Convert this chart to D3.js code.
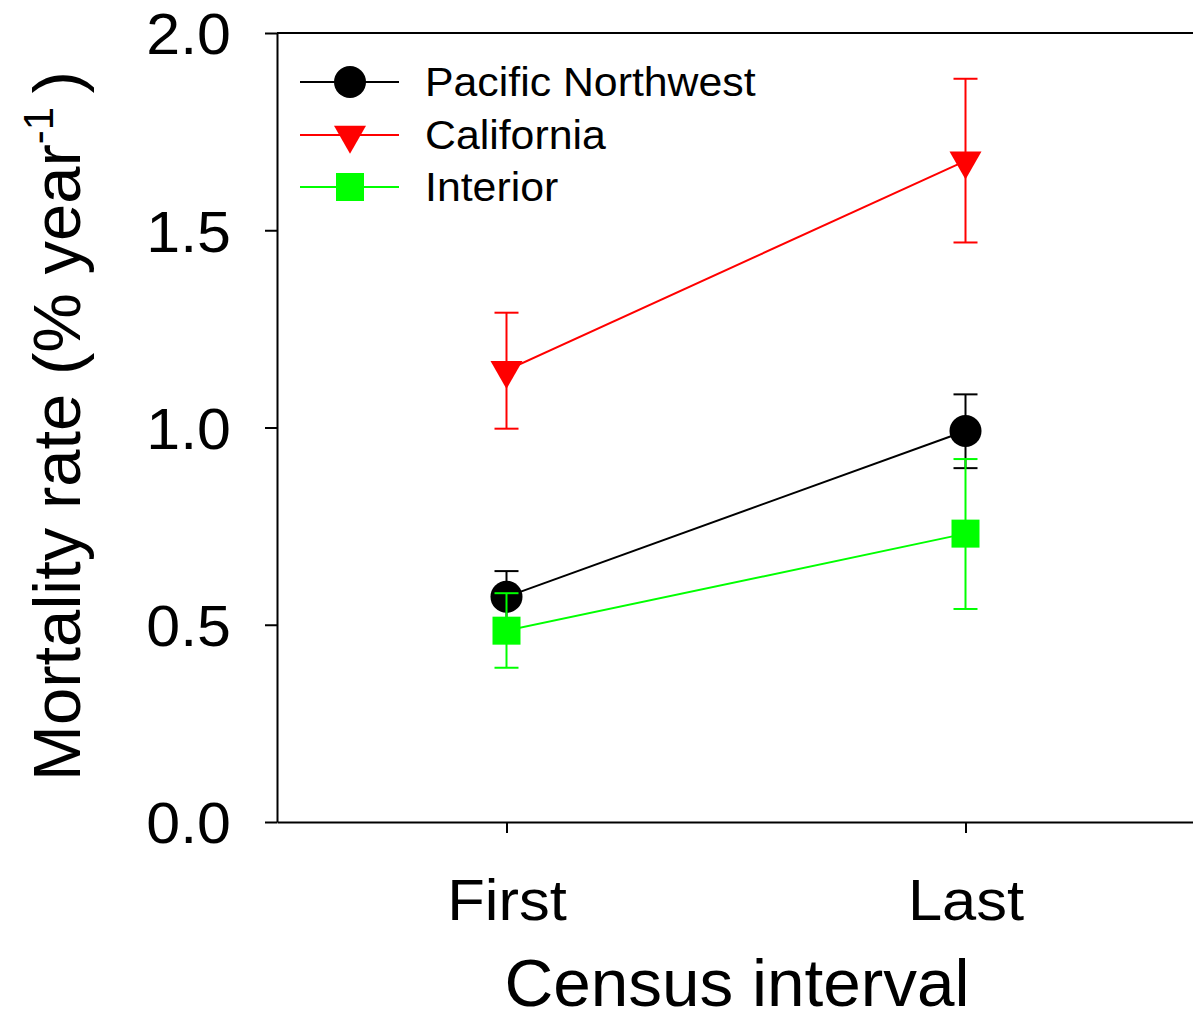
<!DOCTYPE html>
<html>
<head>
<meta charset="utf-8">
<script src="https://cdn.jsdelivr.net/npm/d3@7"></script>
<style>
  body { margin: 0; background: #fff; }
  svg { display: block; font-family: "Liberation Sans", Arial, sans-serif; }
</style>
</head>
<body>
<div id="chart"></div>
<script>
const categories = ["First", "Last"];
const series_names = ["Pacific Northwest", "California", "Interior"];

const pnw_mean = [0.571, 0.991];
const pnw_upper = [0.636, 1.084];
const pnw_lower = [0.506, 0.897];

const cal_mean = [1.145, 1.676];
const cal_upper = [1.291, 1.884];
const cal_lower = [0.997, 1.469];

const int_mean = [0.485, 0.731];
const int_upper = [0.58, 0.92];
const int_lower = [0.391, 0.54];

const y_ticks = [0.0, 0.5, 1.0, 1.5, 2.0];

const svg_width = 1193;
const svg_height = 1021;
const margins = [33, 0, 199, 277]; //top, right, bottom, left

const colors = ["#000000", "#ff0000", "#00ff00"];
const shapes = ["circle", "triangle", "square"];

let svg, x_axis, y_axis;

function markerPath(shape) {
  if (shape == "circle") return d3.symbol().type(d3.symbolCircle).size(Math.PI * 16 * 16)();
  if (shape == "square") return "M-14,-14H14V14H-14Z";
  // down triangle, centroid at origin
  return "M-16,-9.33L16,-9.33L0,18.67Z";
}

// the reference font runs a little wider than Liberation Sans
function stretchText(selection, k) {
  selection.each(function () {
    const len = this.getComputedTextLength();
    d3.select(this)
      .attr("textLength", len * k)
      .attr("lengthAdjust", "spacingAndGlyphs");
  });
}

function initAxes() {
  const [margin_top, margin_right, margin_bottom, margin_left] = margins;
  const bottom = svg_height - margin_bottom;

  // category 1 and 2 sit at 1 and 2, frame runs from 0.5 to 2.5 (cut off on right)
  x_axis = d3.scaleLinear().domain([0.5, 2.5]).range([margin_left, margin_left + 918]);
  y_axis = d3.scaleLinear().domain([0, 2]).range([bottom, margin_top]);

  svg
    .append("g")
    .attr("id", "x_axis")
    .attr("transform", `translate(0,${bottom})`)
    .call(
      d3
        .axisBottom(x_axis)
        .tickValues([1, 2])
        .tickFormat((d) => categories[d - 1])
        .tickSize(11)
        .tickSizeOuter(0)
        .tickPadding(46)
    );

  svg
    .append("g")
    .attr("id", "y_axis")
    .attr("transform", `translate(${margin_left},0)`)
    .call(
      d3
        .axisLeft(y_axis)
        .tickValues(y_ticks)
        .tickFormat(d3.format(".1f"))
        .tickSize(12)
        .tickSizeOuter(0)
        .tickPadding(34)
    );

  // top frame line
  svg
    .append("line")
    .attr("x1", x_axis(0.5))
    .attr("x2", x_axis(2.5))
    .attr("y1", y_axis(2))
    .attr("y2", y_axis(2))
    .attr("stroke", "#000")
    .attr("stroke-width", 2);

  svg.selectAll(".domain, .tick line").attr("stroke", "#000").attr("stroke-width", 2);
  svg.selectAll(".tick text").attr("font-size", 58).attr("fill", "#000");
  svg.select("#y_axis").selectAll(".tick text").attr("dy", "0.36em");
  stretchText(svg.select("#y_axis").selectAll(".tick text"), 1.05);
  stretchText(svg.select("#x_axis").selectAll(".tick text"), 1.06);

  svg
    .append("text")
    .attr("id", "x_label")
    .attr("text-anchor", "middle")
    .attr("x", 737)
    .attr("y", 1006)
    .attr("font-size", 66)
    .text("Census interval");
  stretchText(svg.select("#x_label"), 1.022);

  var y_label = svg
    .append("text")
    .attr("text-anchor", "middle")
    .attr("transform", "translate(80,426) rotate(-90)")
    .attr("font-size", 67);
  y_label.append("tspan").text("Mortality rate (% year");
  y_label.append("tspan").attr("font-size", 42).attr("dy", -27).text("-1");
  y_label.append("tspan").attr("dy", 27).text("\u2009)");
}

function drawSeries(mean, upper, lower, i) {
  const g = svg.append("g").attr("class", "series");
  const color = colors[i];
  const xs = [1, 2];

  xs.forEach((xv, k) => {
    const cx = x_axis(xv);
    g.append("line")
      .attr("x1", cx).attr("x2", cx)
      .attr("y1", y_axis(lower[k])).attr("y2", y_axis(upper[k]))
      .attr("stroke", color).attr("stroke-width", 2);
    [lower[k], upper[k]].forEach((v) => {
      g.append("line")
        .attr("x1", cx - 12).attr("x2", cx + 12)
        .attr("y1", y_axis(v)).attr("y2", y_axis(v))
        .attr("stroke", color).attr("stroke-width", 2);
    });
  });

  g.append("path")
    .datum(mean)
    .attr("fill", "none")
    .attr("stroke", color)
    .attr("stroke-width", 2)
    .attr(
      "d",
      d3
        .line()
        .x((d, k) => x_axis(xs[k]))
        .y((d) => y_axis(d))
    );

  g.selectAll(".marker")
    .data(mean)
    .join("path")
    .attr("class", "marker")
    .attr("d", markerPath(shapes[i]))
    .attr("fill", color)
    .attr("transform", (d, k) => `translate(${x_axis(xs[k])},${y_axis(d)})`);
}

function drawLegend() {
  const row_y = [82, 135, 187];
  const g = svg.append("g").attr("id", "legend");
  series_names.forEach((name, i) => {
    g.append("line")
      .attr("x1", 300).attr("x2", 399)
      .attr("y1", row_y[i]).attr("y2", row_y[i])
      .attr("stroke", colors[i]).attr("stroke-width", 2);
    g.append("path")
      .attr("d", markerPath(shapes[i]))
      .attr("fill", colors[i])
      .attr("transform", `translate(350,${row_y[i]})`);
    g.append("text")
      .attr("x", 425)
      .attr("y", row_y[i])
      .attr("dy", "0.36em")
      .attr("font-size", 40)
      .text(name);
  });
  stretchText(g.selectAll("text"), 1.07);
}

function initialize() {
  svg = d3
    .select("#chart")
    .append("svg")
    .attr("width", svg_width)
    .attr("height", svg_height);

  initAxes();
  drawSeries(pnw_mean, pnw_upper, pnw_lower, 0);
  drawSeries(cal_mean, cal_upper, cal_lower, 1);
  drawSeries(int_mean, int_upper, int_lower, 2);
  drawLegend();
}

initialize();
</script>
</body>
</html>
